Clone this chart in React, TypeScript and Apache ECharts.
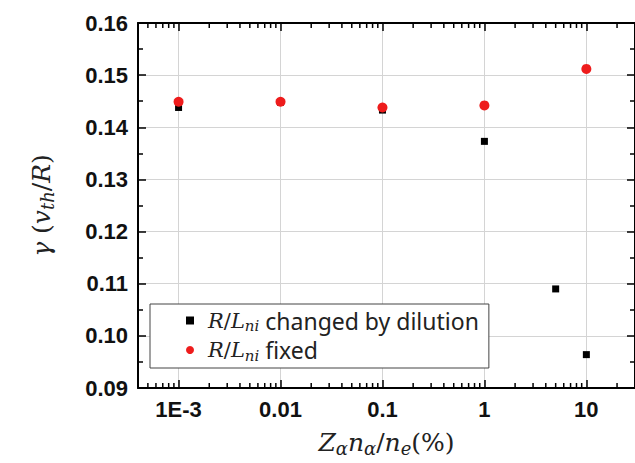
import React, { useEffect, useRef } from "react";
import * as echarts from "echarts";

const X_DILUTION = [0.001, 0.01, 0.1, 1, 5, 10];
const Y_DILUTION = [0.1438, 0.1448, 0.1433, 0.1373, 0.109, 0.0964];
const X_FIXED = [0.001, 0.01, 0.1, 1, 10];
const Y_FIXED = [0.1449, 0.1449, 0.1438, 0.1442, 0.1512];

const X_MIN = 4e-4;
const X_MAX = 30;
const Y_MIN = 0.09;
const Y_MAX = 0.16;
const Y_INTERVAL = 0.01;

const X_MINOR_TICKS = [
  5e-4, 6e-4, 7e-4, 8e-4, 9e-4,
  2e-3, 3e-3, 4e-3, 5e-3, 6e-3, 7e-3, 8e-3, 9e-3,
  0.02, 0.03, 0.04, 0.05, 0.06, 0.07, 0.08, 0.09,
  0.2, 0.3, 0.4, 0.5, 0.6, 0.7, 0.8, 0.9,
  2, 3, 4, 5, 6, 7, 8, 9,
  20,
];

const SERIES_DILUTION = "dilution";
const SERIES_FIXED = "fixed";

const MATH_FONT = "'DejaVu Serif', 'Liberation Serif', serif";
const TICK_FONT = "'Liberation Sans', Arial, sans-serif";

export default function App() {
  const ref = useRef<HTMLDivElement>(null);

  useEffect(() => {
    if (!ref.current) return;
    const chart = echarts.init(ref.current, undefined, { renderer: "svg" });

    const xLabel = (v: number) => {
      const e = Math.round(Math.log10(v));
      if (e === -3) return "1E-3";
      return String(Number(Math.pow(10, e).toPrecision(1)));
    };

    const baseX = {
      type: "log" as const,
      logBase: 10,
      min: X_MIN,
      max: X_MAX,
      axisLine: { show: true, onZero: false, lineStyle: { color: "#000", width: 2 } },
      axisTick: { show: true, inside: true, length: 8, lineStyle: { color: "#000", width: 1.5 } },
      minorTick: { show: false },
    };

    const baseY = {
      type: "value" as const,
      min: Y_MIN,
      max: Y_MAX,
      interval: Y_INTERVAL,
      axisLine: { show: true, onZero: false, lineStyle: { color: "#000", width: 2 } },
      axisTick: { show: true, inside: true, length: 8, lineStyle: { color: "#000", width: 1.5 } },
      minorTick: { show: true, splitNumber: 2, length: 5, lineStyle: { color: "#000", width: 1.5 } },
    };

    const nameRich = {
      m: { fontFamily: MATH_FONT, fontStyle: "italic", fontSize: 25, color: "#222", lineHeight: 30 },
      u: { fontFamily: MATH_FONT, fontSize: 25, color: "#222", lineHeight: 30 },
      s: { fontFamily: MATH_FONT, fontStyle: "italic", fontSize: 18, color: "#222", lineHeight: 16, verticalAlign: "bottom" },
    };

    const legendRich = {
      m: { fontFamily: MATH_FONT, fontStyle: "italic", fontSize: 21, color: "#222", lineHeight: 26 },
      u: { fontFamily: MATH_FONT, fontSize: 21, color: "#222", lineHeight: 26 },
      s: { fontFamily: MATH_FONT, fontStyle: "italic", fontSize: 15, color: "#222", lineHeight: 14, verticalAlign: "bottom" },
      t: { fontFamily: "'Noto Sans', sans-serif", fontSize: 23, color: "#222", lineHeight: 26 },
    };

    chart.setOption({
      animation: false,
      backgroundColor: "#fff",
      grid: { left: 138, top: 23, width: 498, height: 365 },
      legend: {
        orient: "vertical",
        left: 150,
        top: 304,
        padding: [5, 10, 5, 36],
        itemGap: 5,
        itemWidth: 8,
        itemHeight: 8,
        backgroundColor: "#fff",
        borderColor: "#444",
        borderWidth: 1,
        borderRadius: 0,
        data: [
          { name: SERIES_DILUTION, icon: "rect" },
          { name: SERIES_FIXED, icon: "circle" },
        ],
        textStyle: { rich: legendRich, padding: [0, 0, 0, 9] },
        formatter: (name: string) =>
          name === SERIES_DILUTION
            ? "{m|R}{u|/}{m|L}{s|ni}{t| changed by dilution}"
            : "{m|R}{u|/}{m|L}{s|ni}{t| fixed}",
      },
      xAxis: [
        {
          ...baseX,
          position: "bottom",
          name: "{m|Z}{s|α}{m|n}{s|α}{u|/}{m|n}{s|e}{u|(%)}",
          nameLocation: "middle",
          nameGap: 39,
          nameTextStyle: { rich: nameRich },
          axisLabel: {
            show: true,
            margin: 10,
            fontFamily: TICK_FONT,
            fontWeight: "bold",
            fontSize: 22,
            color: "#111",
            showMinLabel: false,
            showMaxLabel: false,
            formatter: xLabel,
          },
          splitLine: { show: true, lineStyle: { color: "#d4d4d4", width: 1 } },
        },
        {
          ...baseX,
          position: "top",
          axisLabel: { show: false },
          splitLine: { show: false },
        },
      ],
      yAxis: [
        {
          ...baseY,
          position: "left",
          name: "{m|γ}{u| (}{m|v}{s|th}{u|/}{m|R}{u|)}",
          nameLocation: "middle",
          nameGap: 82,
          nameRotate: 90,
          nameTextStyle: { rich: nameRich },
          axisLabel: {
            show: true,
            margin: 10,
            fontFamily: TICK_FONT,
            fontWeight: "bold",
            fontSize: 22,
            color: "#111",
            formatter: (v: number) => v.toFixed(2),
          },
          splitLine: { show: true, lineStyle: { color: "#d4d4d4", width: 1 } },
        },
        {
          ...baseY,
          position: "right",
          axisLabel: { show: false },
          splitLine: { show: false },
        },
      ],
      series: [
        {
          type: "custom",
          name: "minorTicks",
          silent: true,
          xAxisIndex: 0,
          yAxisIndex: 0,
          data: X_MINOR_TICKS.map((x) => [x, Y_MIN]),
          renderItem: (params: any, api: any) => {
            const x = api.value(0);
            const pb = api.coord([x, Y_MIN]);
            const pt = api.coord([x, Y_MAX]);
            const st = { stroke: "#000", lineWidth: 1.5 };
            return {
              type: "group",
              children: [
                { type: "line", shape: { x1: pb[0], y1: pb[1], x2: pb[0], y2: pb[1] - 5 }, style: st },
                { type: "line", shape: { x1: pt[0], y1: pt[1], x2: pt[0], y2: pt[1] + 5 }, style: st },
              ],
            };
          },
        },
        {
          type: "scatter",
          name: SERIES_DILUTION,
          symbol: "rect",
          symbolSize: 7,
          itemStyle: { color: "#000", opacity: 1 },
          data: X_DILUTION.map((x, i) => [x, Y_DILUTION[i]]),
          z: 3,
        },
        {
          type: "scatter",
          name: SERIES_FIXED,
          symbol: "circle",
          symbolSize: 10,
          itemStyle: { color: "#ee1c1c", opacity: 1 },
          data: X_FIXED.map((x, i) => [x, Y_FIXED[i]]),
          z: 4,
        },
      ],
    });

    return () => chart.dispose();
  }, []);

  return (
    <div
      ref={ref}
      style={{ position: "fixed", left: 0, top: 0, width: 635, height: 463, background: "#fff" }}
    />
  );
}
